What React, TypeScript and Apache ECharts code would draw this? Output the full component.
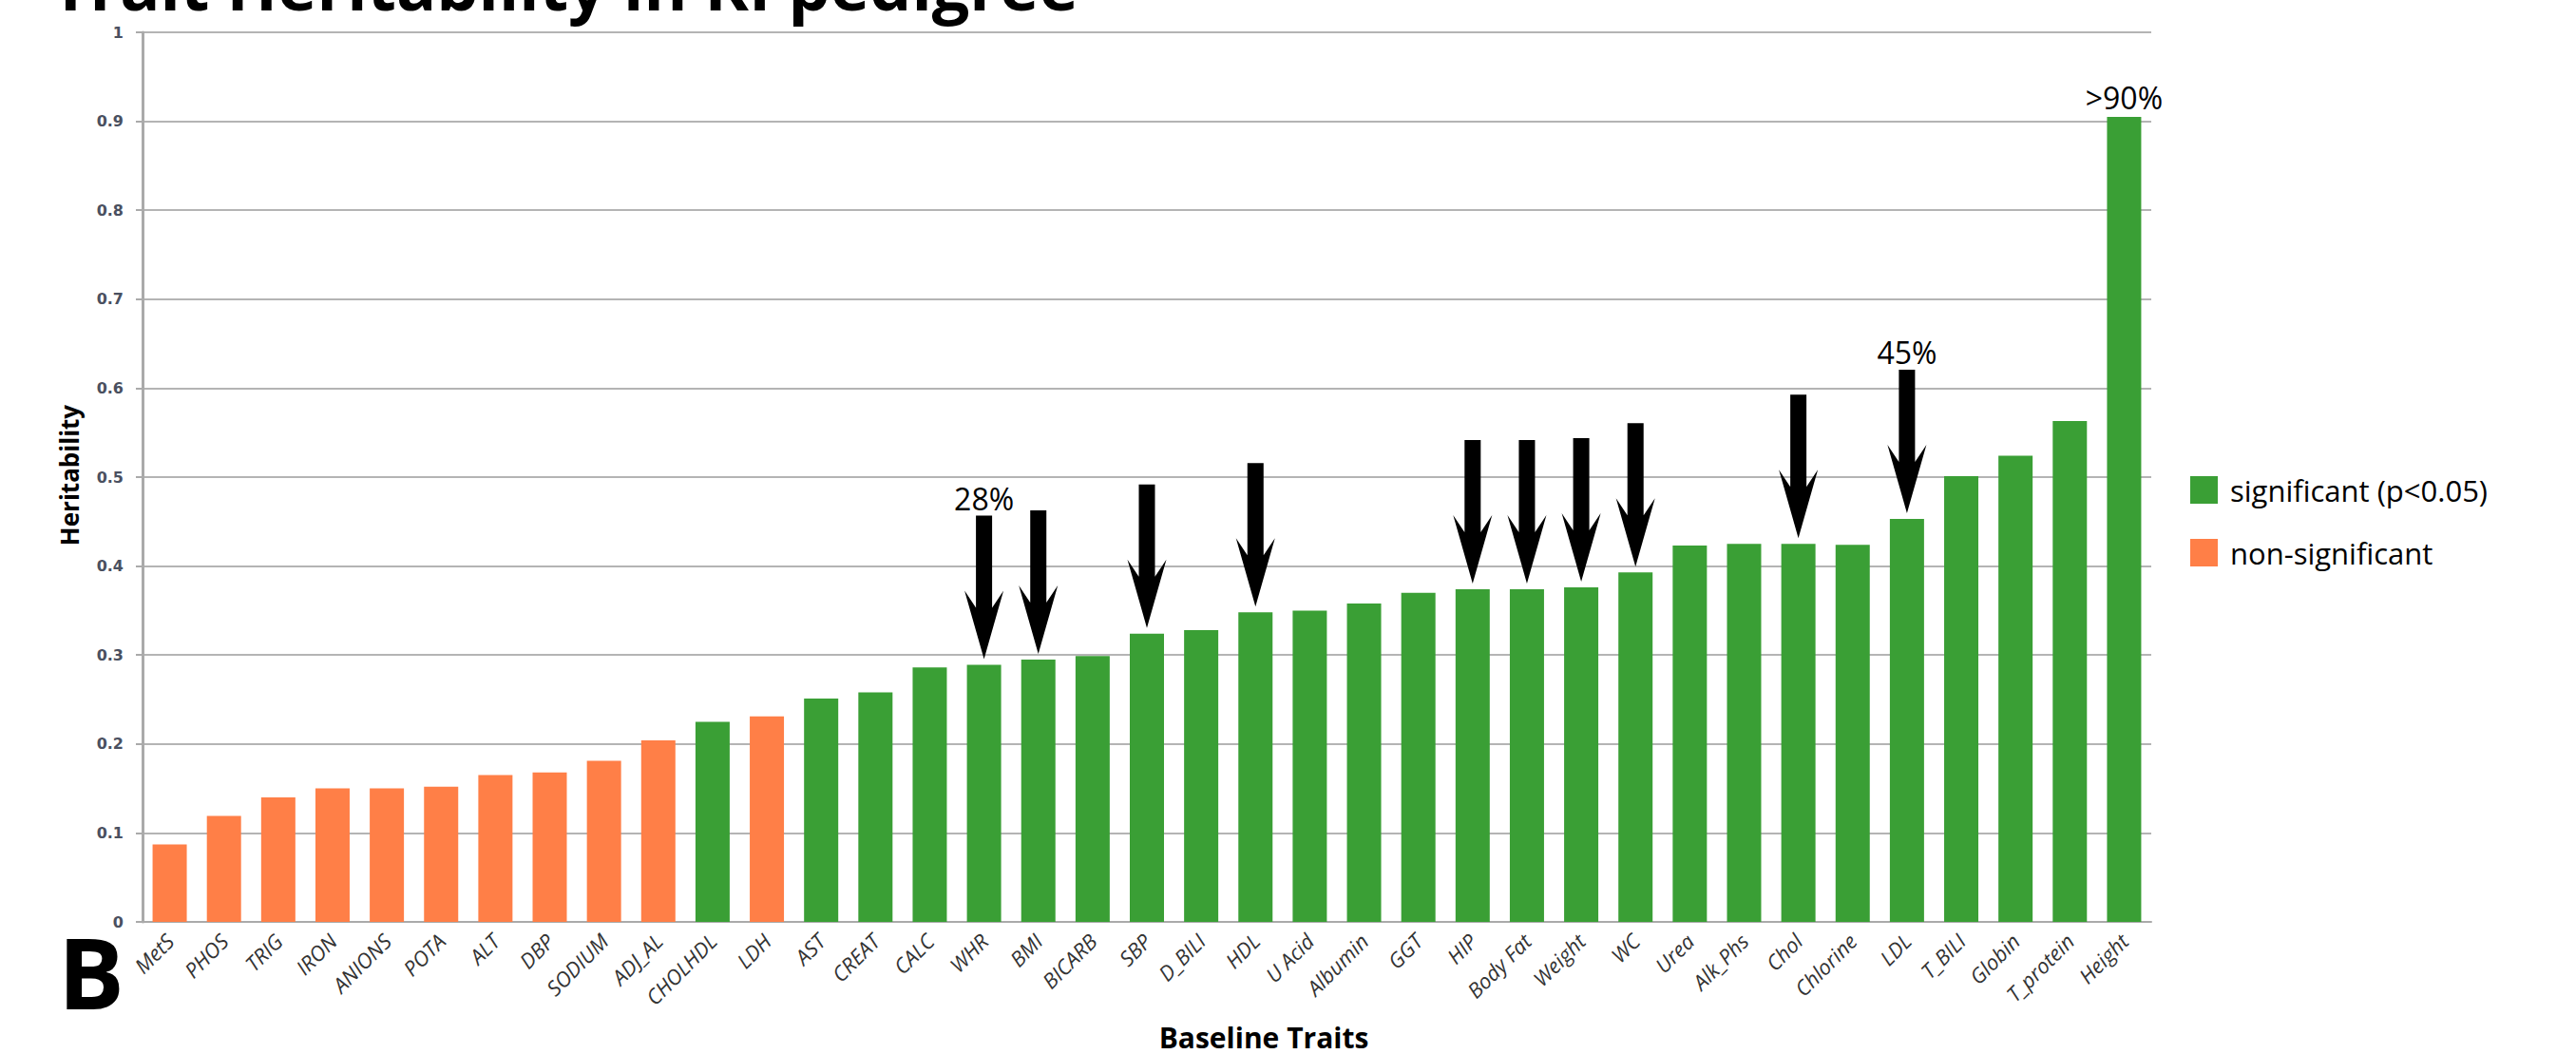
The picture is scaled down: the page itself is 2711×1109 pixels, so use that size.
import React, { useEffect, useRef } from 'react';
import * as echarts from 'echarts';

const categories = [
  'MetS', 'PHOS', 'TRIG', 'IRON', 'ANIONS', 'POTA', 'ALT', 'DBP', 'SODIUM', 'ADJ_AL',
  'CHOLHDL', 'LDH', 'AST', 'CREAT', 'CALC', 'WHR', 'BMI', 'BICARB', 'SBP', 'D_BILI',
  'HDL', 'U Acid', 'Albumin', 'GGT', 'HIP', 'Body Fat', 'Weight', 'WC', 'Urea', 'Alk_Phs',
  'Chol', 'Chlorine', 'LDL', 'T_BILI', 'Globin', 'T_protein', 'Height',
];

const heritability = [
  0.087, 0.119, 0.140, 0.150, 0.150, 0.152, 0.165, 0.168, 0.181, 0.204,
  0.225, 0.231, 0.251, 0.258, 0.286, 0.289, 0.295, 0.299, 0.324, 0.328,
  0.348, 0.350, 0.358, 0.370, 0.374, 0.374, 0.376, 0.393, 0.423, 0.425,
  0.425, 0.424, 0.453, 0.501, 0.524, 0.563, 0.905,
];

const nonSignificantTraits = [
  'MetS', 'PHOS', 'TRIG', 'IRON', 'ANIONS', 'POTA', 'ALT', 'DBP', 'SODIUM', 'ADJ_AL', 'LDH',
];

const arrowTraits = ['WHR', 'BMI', 'SBP', 'HDL', 'HIP', 'Body Fat', 'Weight', 'WC', 'Chol', 'LDL'];
const arrowLabelTraits = ['WHR', 'LDL'];
const arrowLabelTexts = ['28%', '45%'];

const topLabelTrait = 'Height';
const topLabelText = '>90%';

const SIG_NAME = 'significant (p<0.05)';
const NONSIG_NAME = 'non-significant';
const GREEN = '#3A9F35';
const ORANGE = '#FF7F47';

const ARROW_W = 41;
const ARROW_H = 151;
const ARROW_GAP = 6;
const ARROW_PATH = 'path://M12,0 L29,0 L29,97 L41,79 L20.5,151 L0,79 L12,97 Z';

export default function App() {
  const ref = useRef<HTMLDivElement>(null);

  useEffect(() => {
    const chart = echarts.init(ref.current as HTMLDivElement, null, { renderer: 'svg' });

    const isSig = (name: string) => nonSignificantTraits.indexOf(name) < 0;

    const sigData = categories.map((name, i) => {
      if (!isSig(name)) return '-';
      if (name === topLabelTrait) {
        return {
          value: heritability[i],
          label: {
            show: true,
            position: 'top',
            distance: 4,
            formatter: topLabelText,
            color: '#000',
            fontSize: 32,
            fontFamily: 'Open Sans',
          },
        };
      }
      return heritability[i];
    });
    const nonSigData = categories.map((name, i) => (isSig(name) ? '-' : heritability[i]));

    const markData = arrowTraits.map((name) => {
      const idx = categories.indexOf(name);
      const li = arrowLabelTraits.indexOf(name);
      return {
        coord: [idx, heritability[idx]],
        symbolOffset: [0, -(ARROW_H / 2 + ARROW_GAP)],
        label:
          li >= 0
            ? {
                show: true,
                position: 'top',
                distance: 2,
                formatter: arrowLabelTexts[li],
                color: '#000',
                fontSize: 32,
                fontFamily: 'Open Sans',
              }
            : { show: false },
      };
    });

    const option: any = {
      animation: false,
      backgroundColor: '#ffffff',
      grid: { left: 150, top: 34, right: 447, bottom: 139, containLabel: false },
      legend: {
        orient: 'vertical',
        left: 2305,
        top: 500,
        padding: 0,
        itemWidth: 29,
        itemHeight: 29,
        itemGap: 35,
        icon: 'rect',
        data: [SIG_NAME, NONSIG_NAME],
        textStyle: {
          fontFamily: 'Open Sans',
          fontSize: 31,
          color: '#000',
          lineHeight: 29,
          padding: [0, 0, 0, 8],
        },
      },
      xAxis: {
        type: 'category',
        data: categories,
        axisLine: { show: true, lineStyle: { color: '#aaaaaa', width: 2 } },
        axisTick: { show: false },
        axisLabel: {
          interval: 0,
          rotate: 45,
          margin: 16,
          fontFamily: 'Open Sans',
          fontStyle: 'italic',
          fontSize: 22,
          color: '#333333',
        },
      },
      yAxis: {
        type: 'value',
        min: 0,
        max: 1,
        interval: 0.1,
        axisLine: { show: true, lineStyle: { color: '#aaaaaa', width: 3 } },
        axisTick: { show: true, length: 7, lineStyle: { color: '#aaaaaa', width: 2 } },
        splitLine: { show: true, lineStyle: { color: '#b4b4b4', width: 2 } },
        axisLabel: {
          margin: 20,
          fontFamily: 'DejaVu Sans',
          fontWeight: 'bold',
          fontSize: 16,
          color: '#4a5060',
        },
      },
      series: [
        {
          name: SIG_NAME,
          type: 'bar',
          data: sigData,
          barCategoryGap: '37%',
          barGap: '-100%',
          itemStyle: { color: GREEN },
          markPoint: {
            symbol: ARROW_PATH,
            symbolSize: [ARROW_W, ARROW_H],
            symbolKeepAspect: false,
            silent: true,
            itemStyle: { color: '#000' },
            label: { show: false },
            data: markData,
          },
        },
        {
          name: NONSIG_NAME,
          type: 'bar',
          data: nonSigData,
          barCategoryGap: '37%',
          barGap: '-100%',
          itemStyle: { color: ORANGE },
        },
      ],
      graphic: [
        {
          type: 'text',
          x: 54,
          y: -16,
          style: {
            text: 'Trait Heritability in KI pedigree',
            fontFamily: 'Open Sans',
            fontWeight: 'bold',
            fontSize: 70,
            lineHeight: 50,
            fill: '#000',
            align: 'left',
            verticalAlign: 'middle',
          },
        },
        {
          type: 'text',
          x: 73,
          y: 500,
          rotation: Math.PI / 2,
          style: {
            text: 'Heritability',
            fontFamily: 'Open Sans',
            fontWeight: 'bold',
            fontSize: 26,
            fill: '#000',
            align: 'center',
            verticalAlign: 'middle',
          },
        },
        {
          type: 'text',
          x: 1330,
          y: 1091,
          style: {
            text: 'Baseline Traits',
            fontFamily: 'Open Sans',
            fontWeight: 'bold',
            fontSize: 30,
            lineHeight: 30,
            fill: '#000',
            align: 'center',
            verticalAlign: 'middle',
          },
        },
        {
          type: 'text',
          x: 96,
          y: 1021,
          style: {
            text: 'B',
            fontFamily: 'Open Sans',
            fontWeight: 'bold',
            fontSize: 104,
            lineHeight: 80,
            fill: '#000',
            align: 'center',
            verticalAlign: 'middle',
          },
        },
      ],
    };

    chart.setOption(option);
    return () => chart.dispose();
  }, []);

  return (
    <div
      ref={ref}
      style={{ position: 'absolute', left: 0, top: 0, width: 2711, height: 1109, background: '#fff' }}
    />
  );
}
